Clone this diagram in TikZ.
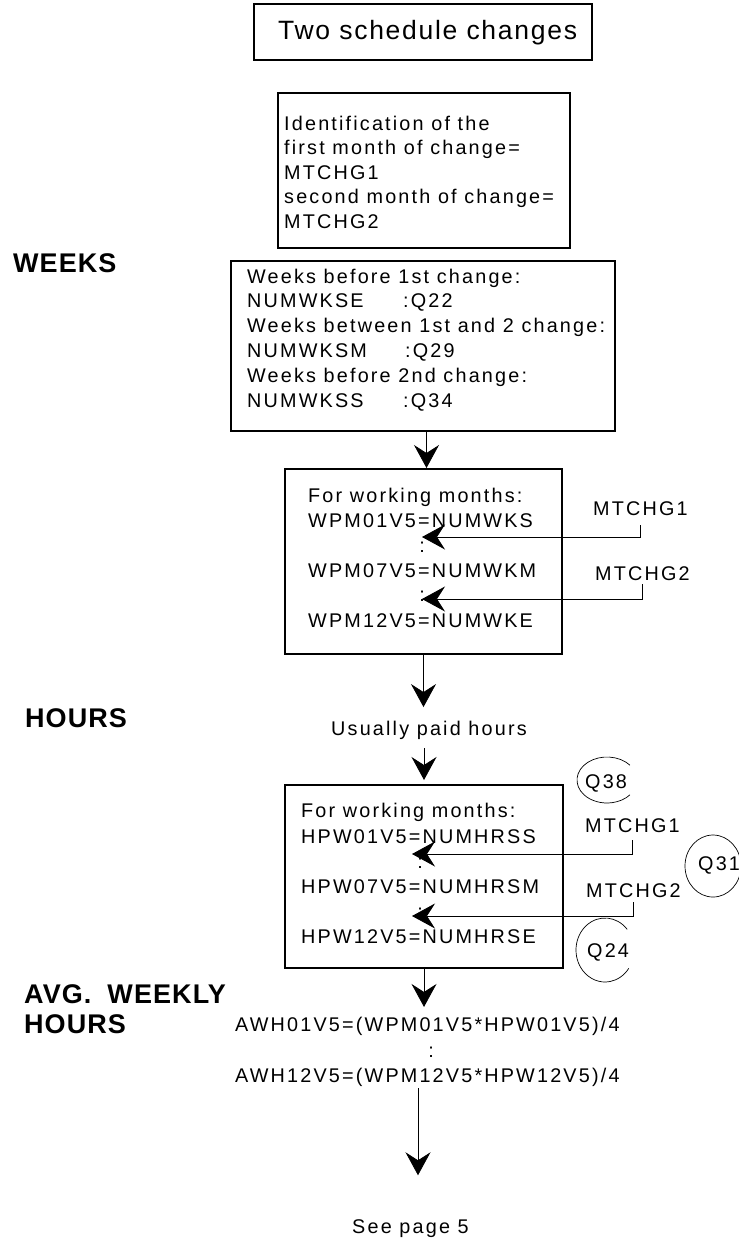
\documentclass[tikz,border=0pt]{standalone}
\usepackage{fontspec}
\setmainfont{Liberation Sans}[LetterSpace=11]
\newfontfamily\titlefont{Liberation Sans}[LetterSpace=6.5]
\newfontfamily\labfont{Liberation Sans}[LetterSpace=4]
\usetikzlibrary{arrows.meta}
\begin{document}
\begin{tikzpicture}[x=1pt,y=-1pt,
  box/.style={draw,line width=2pt,inner sep=0pt,anchor=north west},
  txt/.style={inner sep=0pt,anchor=base west,font=\fontsize{19.8pt}{24pt}\selectfont},
  ctxt/.style={inner sep=0pt,anchor=base,font=\fontsize{19.8pt}{24pt}\selectfont},
  ttl/.style={inner sep=0pt,anchor=base west,font=\titlefont\fontsize{26.5pt}{30pt}\selectfont},
  lab/.style={inner sep=0pt,anchor=base west,font=\labfont\bfseries\fontsize{27pt}{30pt}\selectfont},
  arr/.style={-{Stealth[length=23pt,width=25pt,inset=8pt]},line width=0.8pt},
  qring/.style={line width=0.7pt}]
\useasboundingbox (0,0) rectangle (739,1243);

% title
\node[box,minimum width=338pt,minimum height=56pt] (title) at (253,3) {};
\node[ttl] (ttext) at (278,39) {Two schedule changes};

% identification box
\node[box,minimum width=292pt,minimum height=155pt] (ident) at (277,92) {};
\node[txt] (i1) at (284,130) {Identification of the};
\node[txt] (i2) at (284,154.5) {first month of change=};
\node[txt] (i3) at (284,179) {MTCHG1};
\node[txt] (i4) at (284,203.5) {second month of change=};
\node[txt] (i5) at (284,228) {MTCHG2};

% side labels
\node[lab] (weeks) at (13,272) {WEEKS};
\node[lab] (hours) at (25,727) {HOURS};
\node[lab] (avg1) at (24,1003) {AVG.\hspace{16pt}WEEKLY};
\node[lab] (avg2) at (24,1033) {HOURS};

% weeks box
\node[box,minimum width=384pt,minimum height=170pt] (wbox) at (230,260) {};
\node[txt] (w1) at (247,283) {Weeks before 1st change:};
\node[txt] (w2) at (247,307.8) {\makebox[156pt][l]{NUMWKSE}:Q22};
\node[txt] (w3) at (247,332.6) {Weeks between 1st and 2 change:};
\node[txt] (w4) at (247,357.4) {\makebox[158pt][l]{NUMWKSM}:Q29};
\node[txt] (w5) at (247,382.2) {Weeks before 2nd change:};
\node[txt] (w6) at (247,407) {\makebox[156pt][l]{NUMWKSS}:Q34};

% working months box (weeks)
\node[box,minimum width=277pt,minimum height=185pt] (wpm) at (284,468) {};
\node[txt] (p1) at (308,502) {For working months:};
\node[txt] (p2) at (308,527) {WPM01V5=NUMWKS};
\node[ctxt] (pc1) at (422,552) {:};
\node[txt] (p3) at (308,577) {WPM07V5=NUMWKM};
\node[ctxt] (pc2) at (422,601) {:};
\node[txt] (p4) at (308,627) {WPM12V5=NUMWKE};
\node[txt] (pm1) at (593,515) {MTCHG1};
\node[txt] (pm2) at (595,580) {MTCHG2};
\coordinate (pt1) at (422,537);
\coordinate (pt2) at (422,599);
\draw[arr,shorten <=10pt] (pm1.south) |- (pt1);
\draw[arr,shorten <=4pt] (pm2.south) |- (pt2);

\draw[arr] ([xshift=3pt]wbox.south -| wpm.north) -- ([xshift=3pt]wpm.north);

% usually paid hours
\node[txt] (usual) at (331,735) {Usually paid hours};
\draw[arr,shorten >=13.4pt] (wpm.south) -- (wpm.south |- usual.north);

% working months box (hours)
\node[box,minimum width=278pt,minimum height=183pt] (hpw) at (284,784) {};
\draw[arr,shorten <=9pt,shorten >=4pt] (hpw.north |- usual.south) -- (hpw.north);
\node[txt] (h1) at (301,817) {For working months:};
\node[txt] (h2) at (301,843) {HPW01V5=NUMHRSS};
\node[ctxt] (hc1) at (420,868) {:};
\node[txt] (h3) at (301,893) {HPW07V5=NUMHRSM};
\node[ctxt] (hc2) at (420,918) {:};
\node[txt] (h4) at (301,943) {HPW12V5=NUMHRSE};
\node[txt] (hm1) at (585,832) {MTCHG1};
\node[txt] (hm2) at (586,897) {MTCHG2};
\coordinate (ht1) at (412,854);
\coordinate (ht2) at (412,916);
\draw[arr,shorten <=8pt] (hm1.south) |- (ht1);
\draw[arr,shorten <=5pt] (hm2.south) |- (ht2);

% question rings
\coordinate (q38c) at (607,780);
\coordinate (q31c) at (713,866);
\coordinate (q24c) at (605,950);
\draw[qring] (q38c) ++(40:30pt and 23pt) arc[start angle=40,end angle=320,x radius=30pt,y radius=23pt];
\draw[qring] (q31c) ellipse [x radius=28pt,y radius=31pt];
\draw[qring] (q24c) ++(40:29pt and 32pt) arc[start angle=40,end angle=325,x radius=29pt,y radius=32pt];
\node[txt] (q38) at (585,788) {Q38};
\node[txt] (q31) at (698,870) {Q31};
\node[txt] (q24) at (587,957) {Q24};

% average weekly hours
\node[txt] (awh1) at (235,1031) {AWH01V5=(WPM01V5*HPW01V5)/4};
\node[ctxt] (awc) at (431,1057) {:};
\node[txt] (awh2) at (235,1082) {AWH12V5=(WPM12V5*HPW12V5)/4};
\draw[arr,shorten >=9.5pt] (hpw.south) -- (hpw.south |- awh1.north);

\node[txt] (see) at (352,1233) {See page 5};
\coordinate (ae) at (418,1088);
\draw[arr,shorten >=43.7pt] (ae) -- (ae |- see.north);
\end{tikzpicture}
\end{document}
